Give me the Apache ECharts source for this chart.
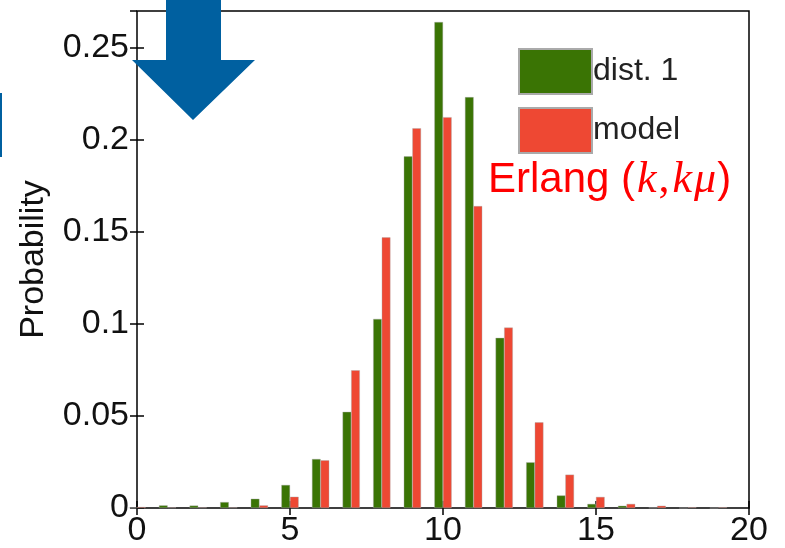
<html>
  <head>
    <meta charset="utf-8">
    <script src="https://cdn.jsdelivr.net/npm/echarts@6/dist/echarts.min.js"></script>
    <style>
      body { margin: 0; background-color: #fff; }
      #chart { width: 785px; height: 548px; }
    </style>
  </head>
  <body>
    <div id="chart"></div>
  </body>
  <script>
    // values, one per integer bin 0..19
    var bins = [0, 1, 2, 3, 4, 5, 6, 7, 8, 9, 10, 11, 12, 13, 14, 15, 16, 17, 18, 19];
    var dist1 = [0.0002, 0.0014, 0.0013, 0.0032, 0.005, 0.0125, 0.0266, 0.0522, 0.1027, 0.191, 0.264,
                 0.2232, 0.0924, 0.0248, 0.0068, 0.0022, 0.0012, 0.0002, 0, 0];
    var model = [0.0005, 0.0003, 0.0003, 0.0003, 0.0014, 0.0061, 0.0259, 0.0748, 0.147, 0.2063, 0.2123,
                 0.164, 0.098, 0.0465, 0.0181, 0.006, 0.0022, 0.0012, 0.0004, 0.0004];
    var seriesNames = ['dist. 1', 'model'];

    var font = 'Liberation Sans, Arial, sans-serif';
    var serif = 'Liberation Serif, Times New Roman, serif';
    var green = '#3a7404';
    var red = '#ee4833';

    function pairs(vals) {
        var out = [];
        for (let i in bins) {
            out.push([bins[i], vals[i]]);
        }
        return out;
    }

    var chart = echarts.init(document.getElementById('chart'));
    var inTick = { show: true, inside: true, length: 7, lineStyle: { color: '#000', width: 1.5 } };
    var option = {
        animation: false,
        grid: { left: 137, right: 36, top: 11, bottom: 40,
                show: true, borderColor: '#000', borderWidth: 1.5, backgroundColor: 'transparent' },
        legend: {
            orient: 'vertical', left: 513, top: 43,
            itemWidth: 73, itemHeight: 45, itemGap: 12,
            icon: 'rect',
            textStyle: { fontFamily: font, fontSize: 32, color: '#222', padding: [0, 0, 0, -4] },
            data: seriesNames
        },
        xAxis: [
            { type: 'value', min: 0, max: 20, interval: 5,
              axisLine: { show: false }, axisTick: inTick, splitLine: { show: false },
              axisLabel: { fontFamily: font, fontSize: 34, color: '#111', margin: 6 } },
            { type: 'value', position: 'top', min: 0, max: 20, interval: 5,
              axisLine: { show: false }, axisTick: inTick, splitLine: { show: false },
              axisLabel: { show: false } }
        ],
        yAxis: [
            { type: 'value', min: 0, max: 0.27, interval: 0.05,
              name: 'Probability', nameLocation: 'middle', nameGap: 86, nameRotate: 90,
              nameTextStyle: { fontFamily: font, fontSize: 34, color: '#111' },
              axisLine: { show: false }, axisTick: inTick, splitLine: { show: false },
              axisLabel: { fontFamily: font, fontSize: 34, color: '#111', margin: 8, showMaxLabel: false,
                           formatter: function (v) { return String(Math.round(v * 100) / 100); } } },
            { type: 'value', position: 'right', min: 0, max: 0.27, interval: 0.05,
              axisLine: { show: false }, axisTick: inTick, splitLine: { show: false },
              axisLabel: { show: false } }
        ],
        series: [
            { name: seriesNames[0], type: 'bar', data: pairs(dist1), barWidth: 8.6, barGap: '0%',
              itemStyle: { color: green, borderColor: '#aaa', borderWidth: 0.4 } },
            { name: seriesNames[1], type: 'bar', data: pairs(model), barWidth: 8.6, barGap: '0%',
              itemStyle: { color: red, borderColor: '#aaa', borderWidth: 0.4 } }
        ],
        graphic: [
            // blue down arrow over the top-left corner
            { type: 'polygon', z: 100,
              shape: { points: [[166, 0], [221, 0], [221, 60], [255, 60], [193, 120], [132, 60], [166, 60]] },
              style: { fill: '#0060a0' } },
            { type: 'rect', z: 100, shape: { x: 0, y: 93, width: 2, height: 64 }, style: { fill: '#0060a0' } },
            { type: 'text', z: 100, left: 488, top: 158,
              style: {
                  text: '{a|Erlang (}{b|k}{c|,}{b|k}{m|μ}{a|)}',
                  rich: {
                      a: { fontFamily: font, fontSize: 42, fill: '#ff0000' },
                      b: { fontFamily: serif, fontStyle: 'italic', fontSize: 44, fill: '#ff0000',
                           padding: [0, 2, 0, 2] },
                      c: { fontFamily: serif, fontSize: 44, fill: '#ff0000', padding: [0, 1, 0, 0] },
                      m: { fontFamily: serif, fontStyle: 'italic', fontSize: 44, fill: '#ff0000',
                           padding: [0, 1, 0, 0] }
                  }
              } }
        ]
    };
    chart.setOption(option);
  </script>
</html>
